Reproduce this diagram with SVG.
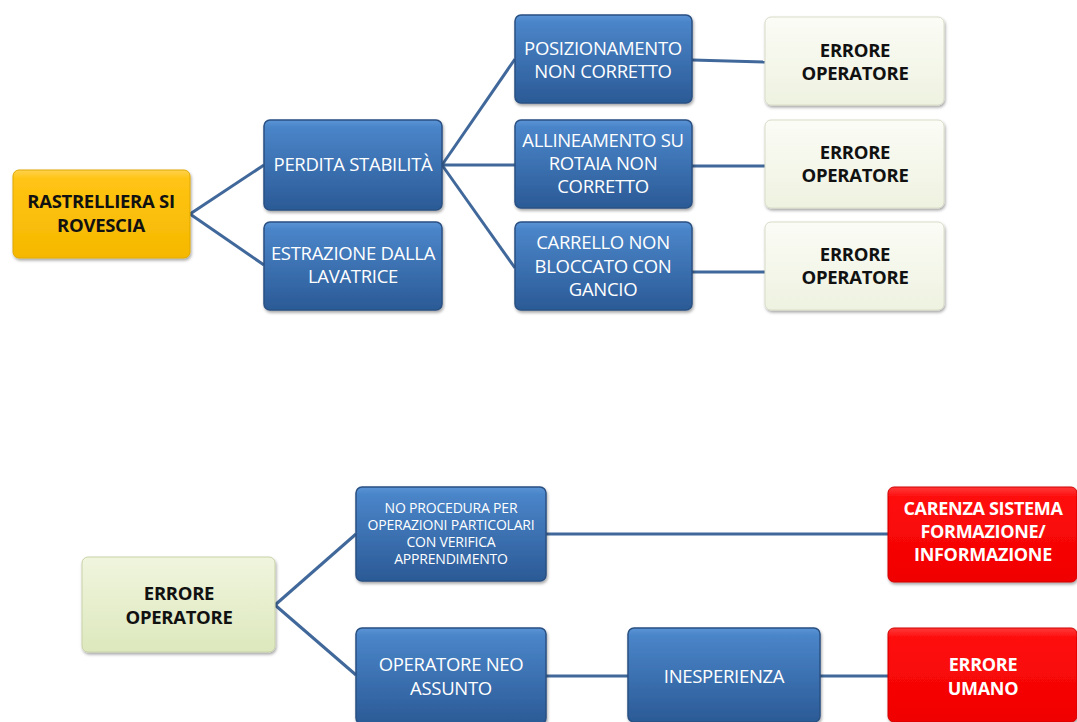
<svg xmlns="http://www.w3.org/2000/svg" width="1077" height="722" viewBox="0 0 1077 722">
<defs>
<linearGradient id="gBlue" x1="0" y1="0" x2="0" y2="1">
<stop offset="0" stop-color="#5b95d6"/>
<stop offset="0.08" stop-color="#4a85c9"/>
<stop offset="1" stop-color="#2b5a96"/>
</linearGradient>
<linearGradient id="gYellow" x1="0" y1="0" x2="0" y2="1">
<stop offset="0" stop-color="#ffd24d"/>
<stop offset="0.1" stop-color="#ffc414"/>
<stop offset="1" stop-color="#f5b800"/>
</linearGradient>
<linearGradient id="gCream" x1="0" y1="0" x2="0" y2="1">
<stop offset="0" stop-color="#fbfcf6"/>
<stop offset="1" stop-color="#eef2e0"/>
</linearGradient>
<linearGradient id="gGreen" x1="0" y1="0" x2="0" y2="1">
<stop offset="0" stop-color="#f0f5de"/>
<stop offset="1" stop-color="#dde8bd"/>
</linearGradient>
<linearGradient id="gRed" x1="0" y1="0" x2="0" y2="1">
<stop offset="0" stop-color="#ff3a3a"/>
<stop offset="0.1" stop-color="#ff0d0d"/>
<stop offset="1" stop-color="#f00000"/>
</linearGradient>
<filter id="sh" x="-10%" y="-10%" width="125%" height="130%">
<feDropShadow dx="1" dy="2" stdDeviation="1.5" flood-color="#000" flood-opacity="0.35"/>
</filter>
</defs>
<style>
.blue{fill:url(#gBlue);stroke:#2a5082;stroke-width:1.5;filter:url(#sh)}
.yellow{fill:url(#gYellow);stroke:#e0a800;stroke-width:1;filter:url(#sh)}
.cream{fill:url(#gCream);stroke:#d8dcc8;stroke-width:1;filter:url(#sh)}
.green{fill:url(#gGreen);stroke:#c8d2a8;stroke-width:1;filter:url(#sh)}
.red{fill:url(#gRed);stroke:#d00000;stroke-width:1;filter:url(#sh)}
.tw{font-family:"Open Sans","Liberation Sans",sans-serif;fill:#fff;font-size:18.5px;text-anchor:middle;letter-spacing:-0.3px}
.ts{font-family:"Open Sans","Liberation Sans",sans-serif;fill:#fff;font-size:14px;text-anchor:middle;letter-spacing:-0.2px}
.tb{font-family:"Open Sans","Liberation Sans",sans-serif;fill:#111;font-size:18.5px;font-weight:bold;text-anchor:middle;letter-spacing:-0.3px}
.tr{font-family:"Open Sans","Liberation Sans",sans-serif;fill:#fff;font-size:18px;font-weight:bold;text-anchor:middle;letter-spacing:-0.3px}
.ln{stroke:#41689a;stroke-width:3;fill:none}
</style>
<g id="connectors">
<line class="ln" x1="190" y1="214" x2="264" y2="165"/>
<line class="ln" x1="190" y1="214" x2="264" y2="265"/>
<line class="ln" x1="442" y1="165" x2="515" y2="59"/>
<line class="ln" x1="442" y1="165" x2="515" y2="165"/>
<line class="ln" x1="442" y1="165" x2="515" y2="268"/>
<line class="ln" x1="692" y1="60" x2="765" y2="62"/>
<line class="ln" x1="692" y1="166" x2="765" y2="166"/>
<line class="ln" x1="692" y1="272" x2="765" y2="272"/>
<line class="ln" x1="275" y1="605" x2="356" y2="534"/>
<line class="ln" x1="275" y1="605" x2="356" y2="675"/>
<line class="ln" x1="546" y1="534" x2="888" y2="534"/>
<line class="ln" x1="546" y1="676" x2="628" y2="676"/>
<line class="ln" x1="820" y1="676" x2="888" y2="676"/>
</g>
<g id="n-root">
<rect class="yellow" x="13" y="170" width="177" height="88" rx="6"/>
<text class="tb" x="101" y="208">RASTRELLIERA SI</text>
<text class="tb" x="101" y="232">ROVESCIA</text>
</g>
<g id="n-perdita">
<rect class="blue" x="264" y="120" width="178" height="90" rx="6"/>
<text class="tw" x="353" y="171">PERDITA STABILITÀ</text>
</g>
<g id="n-estrazione">
<rect class="blue" x="264" y="222" width="178" height="88" rx="6"/>
<text class="tw" x="353" y="260">ESTRAZIONE DALLA</text>
<text class="tw" x="353" y="283">LAVATRICE</text>
</g>
<g id="n-posizionamento">
<rect class="blue" x="515" y="15" width="177" height="88" rx="6"/>
<text class="tw" x="603" y="55">POSIZIONAMENTO</text>
<text class="tw" x="603" y="78">NON CORRETTO</text>
</g>
<g id="n-allineamento">
<rect class="blue" x="515" y="120" width="177" height="88" rx="6"/>
<text class="tw" x="603" y="147">ALLINEAMENTO SU</text>
<text class="tw" x="603" y="170">ROTAIA NON</text>
<text class="tw" x="603" y="193">CORRETTO</text>
</g>
<g id="n-carrello">
<rect class="blue" x="515" y="222" width="177" height="88" rx="6"/>
<text class="tw" x="603" y="249">CARRELLO NON</text>
<text class="tw" x="603" y="273">BLOCCATO CON</text>
<text class="tw" x="603" y="296">GANCIO</text>
</g>
<g id="n-errore1">
<rect class="cream" x="765" y="17" width="179" height="88" rx="6"/>
<text class="tb" x="855" y="57">ERRORE</text>
<text class="tb" x="855" y="80">OPERATORE</text>
</g>
<g id="n-errore2">
<rect class="cream" x="765" y="120" width="179" height="88" rx="6"/>
<text class="tb" x="855" y="159">ERRORE</text>
<text class="tb" x="855" y="182">OPERATORE</text>
</g>
<g id="n-errore3">
<rect class="cream" x="765" y="222" width="179" height="88" rx="6"/>
<text class="tb" x="855" y="261">ERRORE</text>
<text class="tb" x="855" y="284">OPERATORE</text>
</g>
<g id="n-errore-op">
<rect class="green" x="82" y="557" width="193" height="95" rx="6"/>
<text class="tb" x="179" y="600">ERRORE</text>
<text class="tb" x="179" y="624">OPERATORE</text>
</g>
<g id="n-noprocedura">
<rect class="blue" x="356" y="487" width="190" height="94" rx="6"/>
<text class="ts" x="451" y="513">NO PROCEDURA  PER</text>
<text class="ts" x="451" y="530">OPERAZIONI PARTICOLARI</text>
<text class="ts" x="451" y="547">CON VERIFICA</text>
<text class="ts" x="451" y="564">APPRENDIMENTO</text>
</g>
<g id="n-neoassunto">
<rect class="blue" x="356" y="628" width="190" height="96" rx="6"/>
<text class="tw" x="451" y="671">OPERATORE NEO</text>
<text class="tw" x="451" y="695">ASSUNTO</text>
</g>
<g id="n-inesperienza">
<rect class="blue" x="628" y="628" width="192" height="94" rx="6"/>
<text class="tw" x="724" y="683">INESPERIENZA</text>
</g>
<g id="n-carenza">
<rect class="red" x="888" y="487" width="189" height="95" rx="6"/>
<text class="tr" x="983" y="515">CARENZA SISTEMA</text>
<text class="tr" x="983" y="538">FORMAZIONE/</text>
<text class="tr" x="983" y="561">INFORMAZIONE</text>
</g>
<g id="n-umano">
<rect class="red" x="888" y="628" width="189" height="94" rx="6"/>
<text class="tr" x="983" y="671">ERRORE</text>
<text class="tr" x="983" y="695">UMANO</text>
</g>
</svg>
